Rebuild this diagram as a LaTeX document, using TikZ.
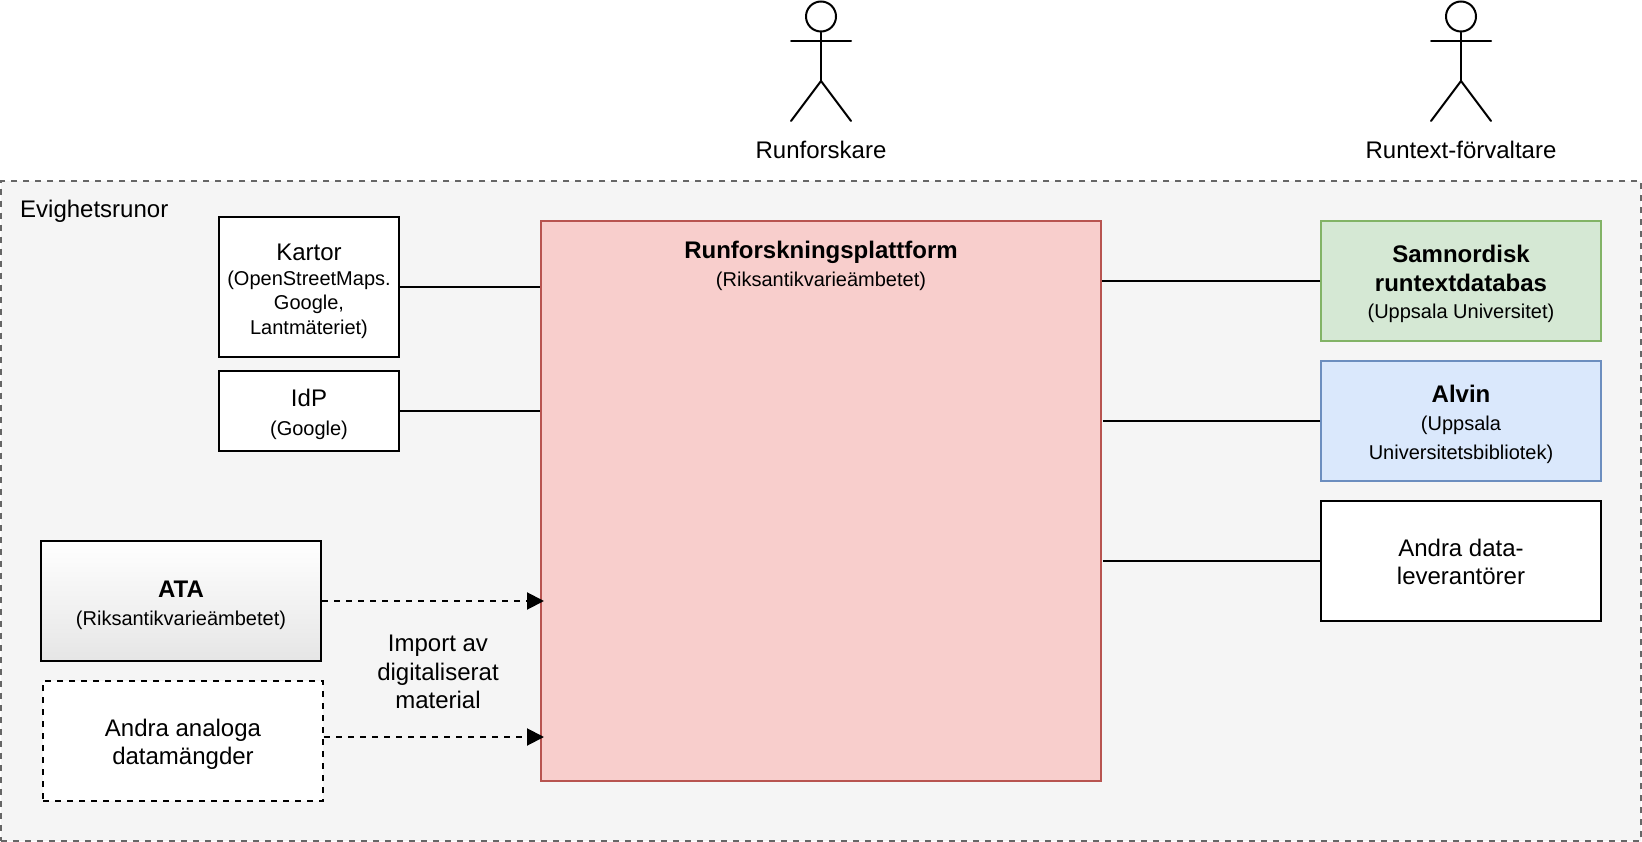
\documentclass[tikz,border=0pt]{standalone}
\usepackage{fontspec}
\setmainfont{Liberation Sans}
\usetikzlibrary{arrows.meta,shapes.geometric}
\definecolor{outerfill}{HTML}{F5F5F5}
\definecolor{outerline}{HTML}{666666}
\definecolor{redfill}{HTML}{F8CECC}
\definecolor{redline}{HTML}{B85450}
\definecolor{greenfill}{HTML}{D5E8D4}
\definecolor{greenline}{HTML}{82B366}
\definecolor{bluefill}{HTML}{DAE8FC}
\definecolor{blueline}{HTML}{6C8EBF}
\newcommand{\mainfs}{\fontsize{24}{28.5}\selectfont}
\newcommand{\subfs}{\fontsize{20}{24}\selectfont}
\newcommand{\dropline}[1]{\rule{0pt}{#1}}
\tikzset{
  boxbase/.style={draw=black,line width=2pt,minimum width=#1,inner sep=0pt,align=center,font=\mainfs},
  whitebox/.style={boxbase=180pt,fill=white},
  widebox/.style={boxbase=280pt,fill=white},
  link/.style={draw=black,line width=2pt},
  dashlink/.style={draw=black,line width=2pt,dash pattern=on 6pt off 6pt,-{Triangle[length=17pt,width=17pt]}},
  actorline/.style={draw=black,line width=2pt,line cap=round},
  plain/.style={inner sep=0pt,align=center,font=\mainfs}
}
\begin{document}
\begin{tikzpicture}[x=1pt,y=-1pt]
\useasboundingbox (0,0) rectangle (1642,842);
\node[draw=outerline,fill=outerfill,line width=2pt,dash pattern=on 6pt off 6pt,minimum width=1640pt,minimum height=660pt,inner sep=0pt] (outer) at (821,511) {};
\node[plain,anchor=west] (title) at (20,211) {Evighetsrunor};

\node[draw=redline,fill=redfill,line width=2pt,minimum width=560pt,minimum height=560pt,inner sep=0pt] (red) at (821,501) {};
\node[plain,anchor=north] (redtext) at (821,241) {\textbf{Runforskningsplattform}\\[-1pt]{\subfs (Riksantikvarieämbetet)}};

\node[whitebox,minimum height=140pt] (kartor) at (309,287) {\dropline{25pt}Kartor\\[-4pt]{\subfs (OpenStreetMaps.}\\[-4pt]{\subfs Google,}\\[-4pt]{\subfs Lantmäteriet)}};
\node[whitebox,minimum height=80pt] (idp) at (309,411) {\dropline{24pt}IdP\\[0pt]{\subfs (Google)}};

\node[boxbase=280pt,minimum height=120pt,top color=white,bottom color=black!10] (ata) at (181,601) {\dropline{25pt}\textbf{ATA}\\[-1pt]{\subfs (Riksantikvarieämbetet)}};
\node[widebox,dash pattern=on 6pt off 6pt,minimum height=120pt] (analog) at (183,741) {\dropline{24pt}Andra analoga\\datamängder};
\node[plain] (import) at (438,672) {Import av\\digitaliserat\\material};

\node[boxbase=280pt,draw=greenline,fill=greenfill,minimum height=120pt] (green) at (1461,281) {\dropline{24pt}\textbf{Samnordisk}\\\textbf{runtextdatabas}\\[-1pt]{\subfs (Uppsala Universitet)}};
\node[boxbase=280pt,draw=blueline,fill=bluefill,minimum height=120pt] (blue) at (1461,421) {\dropline{24pt}\textbf{Alvin}\\[0pt]{\subfs (Uppsala}\\[0pt]{\subfs Universitetsbibliotek)}};
\node[widebox,minimum height=120pt] (other) at (1461,561) {\dropline{19pt}Andra data-\\leverantörer};

\draw[link] (kartor.east) -- (kartor.east -| red.west);
\draw[link] (idp.east) -- (idp.east -| red.west);
\draw[link] (green.west) -- (green.west -| red.east);
\draw[link] (blue.west) -- ([xshift=1pt]blue.west -| red.east);
\draw[link] (other.west) -- ([xshift=1pt]other.west -| red.east);
\draw[dashlink] (ata.east) -- ([xshift=4pt]ata.east -| red.west);
\coordinate (analogout) at ([yshift=4pt]analog.east);
\draw[dashlink] (analogout) -- ([xshift=4pt]analogout -| red.west);

% actors
\node[draw=black,line width=2pt,circle,fill=white,minimum size=30pt,inner sep=0pt] (head1) at (821,16.5) {};
\coordinate (hip1) at (821,81);
\draw[actorline] (head1.south) -- (hip1);
\coordinate (la1) at (791,41); \coordinate (ra1) at (851,41);
\coordinate (lf1) at (791,121); \coordinate (rf1) at (851,121);
\draw[actorline] (la1) -- (ra1);
\draw[actorline] (lf1) -- (hip1) -- (rf1);
\node[plain] (actor1) at (821,150) {Runforskare};

\node[draw=black,line width=2pt,circle,fill=white,minimum size=30pt,inner sep=0pt] (head2) at (1461,16.5) {};
\coordinate (hip2) at (1461,81);
\draw[actorline] (head2.south) -- (hip2);
\coordinate (la2) at (1431,41); \coordinate (ra2) at (1491,41);
\coordinate (lf2) at (1431,121); \coordinate (rf2) at (1491,121);
\draw[actorline] (la2) -- (ra2);
\draw[actorline] (lf2) -- (hip2) -- (rf2);
\node[plain] (actor2) at (1461,150) {Runtext-förvaltare};
\end{tikzpicture}
\end{document}
